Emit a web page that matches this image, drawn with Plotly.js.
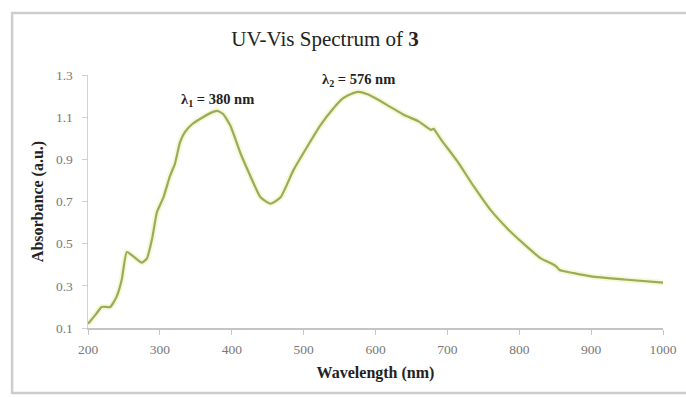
<!DOCTYPE html>
<html>
<head>
<meta charset="utf-8">
<script src="https://cdn.plot.ly/plotly-3.0.1.min.js"></script>
<style>
  html, body { margin: 0; padding: 0; background: #ffffff; }
  #chart { width: 686px; height: 397px; }
</style>
</head>
<body>
<div id="chart"></div>
<script>
// Wavelength (nm) and absorbance (a.u.) of compound 3
const wavelength = [200, 205, 212, 219, 231, 240, 247, 254, 263, 275, 282, 289, 296, 305, 314, 321,
  328, 335, 346, 360, 374, 380, 388, 398, 412, 426, 440, 454, 468, 486, 505, 523, 541, 555, 566,
  576, 588, 600, 620, 640, 660, 677, 681, 684, 691, 714, 737, 760, 784, 806, 830, 848, 852, 856,
  876, 900, 946, 1000];
const absorbance = [0.12, 0.14, 0.17, 0.20, 0.20, 0.25, 0.33, 0.46, 0.44, 0.41, 0.43, 0.52, 0.65, 0.72, 0.82, 0.88,
  0.98, 1.03, 1.07, 1.10, 1.125, 1.13, 1.115, 1.06, 0.93, 0.82, 0.72, 0.69, 0.72, 0.85, 0.96, 1.06, 1.14, 1.19, 1.21,
  1.22, 1.21, 1.19, 1.15, 1.11, 1.08, 1.04, 1.045, 1.03, 0.995, 0.89, 0.77, 0.66, 0.57, 0.50, 0.43, 0.40, 0.39, 0.375,
  0.36, 0.345, 0.33, 0.315];

// Absorption maxima and their labels
const peakWavelength = [380, 576];
const peakLabelY = [1.18, 1.275];
const peakLabels = ['λ<sub>1</sub> = 380 nm', 'λ<sub>2</sub> = 576 nm'];

const xTicks = [200, 300, 400, 500, 600, 700, 800, 900, 1000];
const yTicks = [0.1, 0.3, 0.5, 0.7, 0.9, 1.1, 1.3];

const serif = 'Liberation Serif, Times New Roman, serif';

const traces = [
  { // soft halo under the spectrum line
    x: wavelength, y: absorbance, type: 'scatter', mode: 'lines',
    line: { color: 'rgba(232,240,170,0.45)', width: 6, shape: 'spline', smoothing: 0.5 },
    hoverinfo: 'skip', showlegend: false
  },
  {
    x: wavelength, y: absorbance, type: 'scatter', mode: 'lines',
    line: { color: '#9cab58', width: 2.2, shape: 'spline', smoothing: 0.5 },
    showlegend: false
  }
];

const annotations = peakWavelength.map((w, i) => ({
  x: w, y: peakLabelY[i], xref: 'x', yref: 'y',
  text: '<b>' + peakLabels[i] + '</b>', showarrow: false,
  font: { family: serif, size: 14.5, color: '#222' }
}));

const layout = {
  width: 686, height: 397,
  margin: { l: 88, r: 23, t: 75, b: 69 },
  paper_bgcolor: '#ffffff', plot_bgcolor: '#ffffff',
  title: {
    text: 'UV-Vis Spectrum of <b>3</b>',
    x: 325 / 686, xref: 'container', xanchor: 'center',
    y: 1 - 39 / 397, yref: 'container', yanchor: 'middle',
    font: { family: serif, size: 21, color: '#222' }
  },
  xaxis: {
    range: [200, 1000], tickvals: xTicks, ticktext: xTicks.map(String),
    showgrid: false, zeroline: false, showline: true, linecolor: '#c4c4c4', linewidth: 1.5,
    ticks: 'outside', ticklen: 5, tickcolor: '#c4c4c4', ticklabelstandoff: 3,
    tickfont: { family: serif, size: 13.5, color: '#777' },
    title: { text: '<b>Wavelength (nm)</b>', standoff: 11,
             font: { family: serif, size: 16, color: '#222' } }
  },
  yaxis: {
    range: [0.1, 1.3], tickvals: yTicks, ticktext: yTicks.map(v => v.toFixed(1)),
    showgrid: false, zeroline: false, showline: true, linecolor: '#d0d0d0', linewidth: 1.5,
    ticks: 'outside', ticklen: 5, tickcolor: '#d0d0d0', ticklabelstandoff: 6,
    tickfont: { family: serif, size: 13.5, color: '#777' },
    title: { text: '<b>Absorbance (a.u.)</b>', standoff: 8,
             font: { family: serif, size: 16, color: '#222' } }
  },
  annotations: annotations,
  shapes: [{
    // chart frame
    type: 'rect', xref: 'paper', yref: 'paper',
    x0: -0.132, x1: 1.06, y0: -0.257, y1: 1.245,
    line: { color: '#cdcdcd', width: 2.5 }, fillcolor: 'rgba(0,0,0,0)', layer: 'below'
  }]
};

Plotly.newPlot('chart', traces, layout, { displayModeBar: false, staticPlot: true });
</script>
</body>
</html>
